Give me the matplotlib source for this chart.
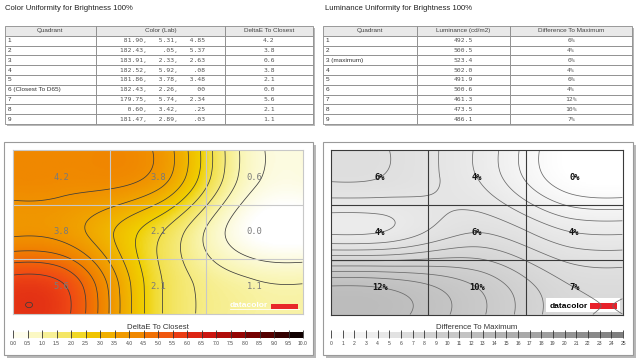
import numpy as np
import matplotlib
matplotlib.use("Agg")
import matplotlib.pyplot as plt
from matplotlib.colors import LinearSegmentedColormap, ListedColormap, BoundaryNorm, Normalize
from matplotlib.patches import Rectangle
from matplotlib.table import Table
import matplotlib.cm as cm

plt.rcParams['font.family'] = ['Liberation Sans', 'DejaVu Sans']

# ---- data ----
color_quadrants = ["1", "2", "3", "4", "5", "6 (Closest To D65)", "7", "8", "9"]
lab_L = ["81.90", "182.43", "183.91", "182.52", "181.86", "182.43", "179.75", "0.60", "181.47"]
lab_a = ["5.31", ".05", "2.33", "5.92", "3.78", "2.26", "5.74", "3.42", "2.89"]
lab_b = ["4.85", "5.37", "2.63", ".08", "3.48", "00", "2.34", ".25", ".03"]
delta_e = [4.2, 3.8, 0.6, 3.8, 2.1, 0.0, 5.6, 2.1, 1.1]

lum_quadrants = ["1", "2", "3 (maximum)", "4", "5", "6", "7", "8", "9"]
luminance = [492.5, 500.5, 523.4, 502.0, 491.9, 500.6, 461.3, 473.5, 486.1]
diff_max = [6, 4, 0, 4, 6, 4, 12, 10, 7]

W, H = 640, 359
fig = plt.figure(figsize=(W / 100, H / 100), dpi=100)
fig.patch.set_facecolor("white")


def fbox(x0, y0, x1, y1):
    # pixel box (top-left origin) -> figure fraction rect
    return [x0 / W, 1 - y1 / H, (x1 - x0) / W, (y1 - y0) / H]


def shadow_box(x0, y0, x1, y1, off=3):
    r = fbox(x0 + off, y0 + off, x1 + off, y1 + off)
    fig.add_artist(Rectangle((r[0], r[1]), r[2], r[3], transform=fig.transFigure,
                             facecolor="#b8b8b8", edgecolor="none", zorder=-3))


def frame_box(x0, y0, x1, y1):
    shadow_box(x0, y0, x1, y1)
    r = fbox(x0, y0, x1, y1)
    fig.add_artist(Rectangle((r[0], r[1]), r[2], r[3], transform=fig.transFigure,
                             facecolor="white", edgecolor="#9a9a9a", lw=0.8, zorder=-2))


# ---- smooth surface from the 3x3 grid (clamped bicubic) ----
def cubic_weights(f):
    a = -0.5
    d = np.array([1 + f, f, 1 - f, 2 - f])
    return np.where(d <= 1, (a + 2) * d**3 - (a + 3) * d**2 + 1,
                    np.where(d < 2, a * d**3 - 5 * a * d**2 + 8 * a * d - 4 * a, 0.0))


def upsample_axis(values, n):
    pos = (np.arange(n) + 0.5) / n * 3 - 0.5
    out = []
    for p in pos:
        i0 = int(np.floor(p))
        idx = np.clip([i0 - 1, i0, i0 + 1, i0 + 2], 0, 2)
        out.append(np.tensordot(cubic_weights(p - i0), values[idx], axes=1))
    return np.array(out)


def surface(vals, nx=240, ny=140):
    g = np.array(vals, dtype=float).reshape(3, 3)
    z = upsample_axis(upsample_axis(g, ny).T, nx).T
    x = (np.arange(nx) + 0.5) / nx * 3
    y = (np.arange(ny) + 0.5) / ny * 3
    return x, y, z


# ---- tables ----
def draw_table(rect, col_w, header, rows):
    ax = fig.add_axes(rect)
    ax.set_axis_off()
    tb = Table(ax, bbox=[0, 0, 1, 1])
    nrow = len(rows) + 1
    for j, (txt, w) in enumerate(zip(header, col_w)):
        c = tb.add_cell(0, j, w, 1 / nrow, text=txt, loc="center",
                        facecolor="#e9e9e9", edgecolor="#8a8a8a")
        c.get_text().set_color("#444444")
        c.set_linewidth(0.6)
    for i, row in enumerate(rows, start=1):
        for j, txt in enumerate(row):
            loc = "left" if j == 0 else "center"
            c = tb.add_cell(i, j, col_w[j], 1 / nrow, text=txt, loc=loc,
                            facecolor="white", edgecolor="#8a8a8a")
            c.PAD = 0.03
            c.set_linewidth(0.6)
            t = c.get_text()
            if j == 0:
                t.set_color("#333333")
            else:
                t.set_family(["DejaVu Sans Mono"])
                t.set_color("#555555")
    tb.auto_set_font_size(False)
    tb.set_fontsize(4.6)
    ax.add_table(tb)


fig.text(5 / W, 1 - 9 / H, "Color Uniformity for Brightness 100%", fontsize=5.6,
         va="center", color="#222222")
fig.text(325 / W, 1 - 9 / H, "Luminance Uniformity for Brightness 100%", fontsize=5.6,
         va="center", color="#222222")

shadow_box(5, 26, 313, 124, off=2)
color_rows = [[q, "{:>7},{:>7},{:>7}".format(L, a, b), "{:.1f}".format(d)]
              for q, L, a, b, d in zip(color_quadrants, lab_L, lab_a, lab_b, delta_e)]
draw_table(fbox(5, 26, 313, 124), [91 / 308, 129 / 308, 88 / 308],
           ["Quadrant", "Color (Lab)", "DeltaE To Closest"], color_rows)

shadow_box(323, 26, 632, 124, off=2)
lum_rows = [[q, "{:.1f}".format(l), "{}%".format(d)]
            for q, l, d in zip(lum_quadrants, luminance, diff_max)]
draw_table(fbox(323, 26, 632, 124), [94 / 309, 93 / 309, 122 / 309],
           ["Quadrant", "Luminance (cd/m2)", "Difference To Maximum"], lum_rows)

# ---- colormaps ----
de_cmap = LinearSegmentedColormap.from_list("de", [
    (0.00, "#ffffff"), (0.10, "#f9f5b0"), (0.20, "#f2e04a"), (0.25, "#f0cf00"),
    (0.35, "#f0a400"), (0.45, "#f07e00"), (0.55, "#f04a14"), (0.65, "#d81a14"),
    (0.80, "#880000"), (1.00, "#000000")])
gray_cmap = LinearSegmentedColormap.from_list("gr", ["#ffffff", "#7c7c7c"])


def heat_panel(box, hrect, cbrect, vals, vmax, cmap, levels, line_col, grid_col,
               label_fmt, label_kw, cb_title, cb_step, cb_fmt, logo_dark):
    frame_box(*box)
    ax = fig.add_axes(hrect)
    x, y, z = surface(vals)
    ax.imshow(z, extent=[0, 3, 3, 0], cmap=cmap, norm=Normalize(0, vmax),
              aspect="auto", interpolation="bilinear")
    ax.contour(x, y, z, levels=levels, colors=line_col, linewidths=0.55)
    for k in (1, 2):
        ax.axvline(k, color=grid_col, lw=0.8)
        ax.axhline(k, color=grid_col, lw=0.8)
    for i, v in enumerate(vals):
        ax.text(i % 3 + 0.5, i // 3 + 0.5, label_fmt.format(v), ha="center", va="center",
                family=["DejaVu Sans Mono"], fontsize=6.3, **label_kw)
    ax.set_xlim(0, 3)
    ax.set_ylim(3, 0)
    ax.set_xticks([])
    ax.set_yticks([])
    for s in ax.spines.values():
        s.set_color(grid_col)
        s.set_linewidth(0.8)
    # datacolor logo
    if logo_dark:
        ax.add_patch(Rectangle((0.738, 0.02), 0.252, 0.085, transform=ax.transAxes,
                               facecolor="white", edgecolor="none"))
        ax.text(0.748, 0.04, "datacolor", transform=ax.transAxes, fontsize=6,
                weight="bold", color="black", va="baseline")
        ax.add_patch(Rectangle((0.887, 0.036), 0.092, 0.036, transform=ax.transAxes,
                               facecolor="#e8202a", edgecolor="none"))
    else:
        ax.text(0.748, 0.04, "datacolor", transform=ax.transAxes, fontsize=6,
                weight="bold", color="white", va="baseline")
        ax.plot([0.748, 0.985], [0.028, 0.028], transform=ax.transAxes, color="white", lw=0.6)
        ax.add_patch(Rectangle((0.890, 0.032), 0.093, 0.032, transform=ax.transAxes,
                               facecolor="#e8282a", edgecolor="none"))
    # colorbar
    bounds = np.arange(0, vmax + cb_step / 2, cb_step)
    mids = (bounds[:-1] + bounds[1:]) / 2
    cb_cmap = ListedColormap(cmap(mids / vmax))
    cax = fig.add_axes(cbrect)
    cb = fig.colorbar(cm.ScalarMappable(norm=BoundaryNorm(bounds, cb_cmap.N), cmap=cb_cmap),
                      cax=cax, orientation="horizontal", ticks=bounds)
    cb.outline.set_visible(False)
    cb.set_ticklabels([cb_fmt.format(b) for b in bounds])
    cax.tick_params(axis="x", direction="in", length=5.5, width=0.6, color="#333333",
                    labelsize=3.6, pad=2.2, labelcolor="#444444")
    cax.set_title(cb_title, fontsize=5.6, color="#333333", pad=2.5)


heat_panel((4, 142, 313, 355), fbox(13, 150, 303, 314), fbox(13, 332, 303, 338),
           delta_e, 10.0, de_cmap, np.arange(0.5, 6.01, 0.5), "#3c3c3c", "#c8c8c8",
           "{:.1f}", dict(color="#7a7a7a"), "DeltaE To Closest", 0.5, "{:.1f}", False)

heat_panel((323, 142, 633, 355), fbox(331, 150, 623, 315), fbox(331, 332, 623, 338),
           diff_max, 25, gray_cmap, np.arange(1, 13), "#6a6a6a", "#3a3a3a",
           "{}%", dict(color="#111111", weight="bold"), "Difference To Maximum", 1, "{:.0f}",
           True)

fig.savefig("out.png", dpi=100, facecolor="white")
